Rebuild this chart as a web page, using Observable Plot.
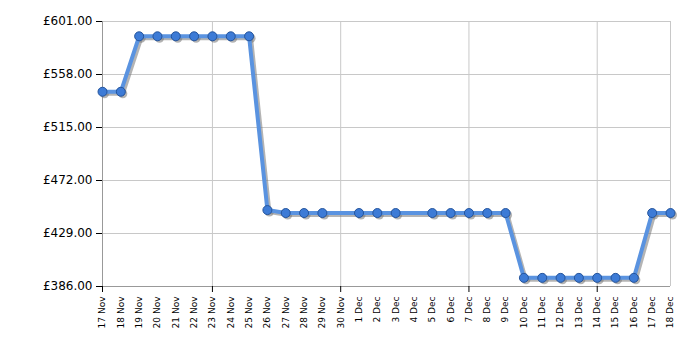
<!DOCTYPE html>
<html><head><meta charset="utf-8">
<script src="https://cdn.jsdelivr.net/npm/d3@7"></script>
<script src="https://cdn.jsdelivr.net/npm/@observablehq/plot@0.6"></script>
<style>body{margin:0;background:#fff;font-family:"DejaVu Sans",Verdana,sans-serif;}</style>
</head><body><div id="chart"></div>
<script>
const dates = ["2023-11-17","2023-11-18","2023-11-19","2023-11-20","2023-11-21","2023-11-22","2023-11-23","2023-11-24","2023-11-25","2023-11-26","2023-11-27","2023-11-28","2023-11-29","2023-12-01","2023-12-02","2023-12-03","2023-12-05","2023-12-06","2023-12-07","2023-12-08","2023-12-09","2023-12-10","2023-12-11","2023-12-12","2023-12-13","2023-12-14","2023-12-15","2023-12-16","2023-12-17","2023-12-18"];
const prices = [544,544,589,589,589,589,589,589,589,448,445.6,445.6,445.6,445.6,445.6,445.6,445.6,445.6,445.6,445.6,445.6,393,393,393,393,393,393,393,445.6,445.6];
const yTicks = [386,429,472,515,558,601];
const xStart = "2023-11-17", xEnd = "2023-12-18";
const gridDates = ["2023-11-23","2023-11-30","2023-12-07","2023-12-14","2023-12-18"];

const data = dates.map((d,i)=>({date:new Date(d+"T00:00Z"), price:prices[i]}));
const allDays = d3.utcDays(new Date(xStart+"T00:00Z"), d3.utcDay.offset(new Date(xEnd+"T00:00Z"),1));
const grid = gridDates.map(d=>new Date(d+"T00:00Z"));
const fmt = d3.utcFormat("%-d %b");

const chart = Plot.plot({
  width:700, height:350,
  marginLeft:102, marginRight:30, marginTop:21, marginBottom:64,
  style:{fontFamily:"'DejaVu Sans', Verdana, sans-serif", background:"#fff"},
  x:{type:"utc", domain:[new Date(xStart+"T00:00Z"), new Date(xEnd+"T00:00Z")]},
  y:{domain:[386,601]},
  marks:[
    Plot.gridY(yTicks,{stroke:"#c8c8c8", strokeOpacity:1}),
    Plot.gridX(grid,{stroke:"#c8c8c8", strokeOpacity:1}),
    Plot.ruleX([new Date(xStart+"T00:00Z")],{stroke:"#999"}),
    Plot.ruleY([386],{stroke:"#999"}),
    Plot.axisY({ticks:yTicks, tickSize:6, tickPadding:4, fontSize:12, label:null, tickFormat:d=>"£"+d.toFixed(2), stroke:"#000"}),
    Plot.axisX({ticks:allDays, tickSize:0, tickPadding:10, tickRotate:-90, fontSize:9, label:null, tickFormat:fmt}),
    Plot.axisX({ticks:[new Date(xStart+"T00:00Z"), ...grid.slice(0,4)], tickSize:6, tickFormat:()=>"", label:null, stroke:"#000"}),
    Plot.line(data,{x:"date", y:"price", stroke:"#777", strokeOpacity:0.55, strokeWidth:4, dx:2, dy:2}),
    Plot.dot(data,{x:"date", y:"price", r:4.5, fill:"#777", fillOpacity:0.55, dx:2, dy:2}),
    Plot.line(data,{x:"date", y:"price", stroke:"#5a93e0", strokeWidth:4}),
    Plot.dot(data,{x:"date", y:"price", r:4.5, fill:"#3d7bd6", stroke:"#24549c", strokeWidth:1})
  ]
});
document.getElementById("chart").appendChild(chart);
</script></body></html>
